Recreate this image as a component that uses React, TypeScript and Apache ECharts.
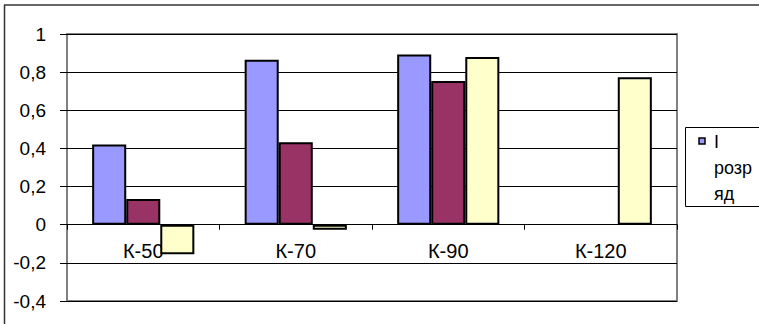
import React, { useEffect, useRef } from "react";
import * as echarts from "echarts";

const categories = ["К-50", "К-70", "К-90", "К-120"];
const seriesNames = ["І розряд", "ІІ розряд", "ІІІ розряд"];
const series1 = [0.42, 0.865, 0.893, null];
const series2 = [0.135, 0.432, 0.753, null];
const series3 = [-0.155, -0.027, 0.88, 0.773];
const colors = ["#9999FF", "#993366", "#FFFFCC"];
const yMin = -0.4;
const yMax = 1;
const yStep = 0.2;

const FONT = "Liberation Sans, Arial, sans-serif";

export default function App() {
  const ref = useRef<HTMLDivElement>(null);
  useEffect(() => {
    if (!ref.current) return;
    const chart = echarts.init(ref.current, undefined, { renderer: "svg" });
    const data = [series1, series2, series3];
    const gridTop = 34;
    const gridBottom = 23;
    const plotH = 324 - gridTop - gridBottom;
    // move the category axis up to the value 0 line
    const zeroOffset = -(plotH * (0 - yMin)) / (yMax - yMin);
    chart.setOption({
      animation: false,
      backgroundColor: "#ffffff",
      textStyle: { fontFamily: FONT },
      grid: {
        left: 67,
        top: gridTop,
        right: 82,
        bottom: gridBottom,
        containLabel: false,
        outerBoundsMode: "none",
        show: true,
        borderColor: "#808080",
        borderWidth: 2,
        backgroundColor: "#ffffff",
      },
      xAxis: {
        type: "category",
        data: categories,
        offset: zeroOffset,
        axisLine: { onZero: false, lineStyle: { color: "#000", width: 1 } },
        axisTick: { show: true, length: 5, lineStyle: { color: "#000" } },
        axisLabel: { color: "#000", fontSize: 20, fontFamily: FONT, margin: 16 },
        splitLine: { show: false },
      },
      yAxis: {
        type: "value",
        min: yMin,
        max: yMax,
        interval: yStep,
        axisLine: { show: false },
        axisTick: { show: true, length: 7, lineStyle: { color: "#000" } },
        axisLabel: {
          color: "#000",
          fontSize: 19,
          fontFamily: FONT,
          margin: 21,
          formatter: (v: number) => String(Math.round(v * 10) / 10).replace(".", ","),
        },
        splitLine: { show: true, lineStyle: { color: "#000", width: 1 } },
      },
      series: data.map((d, i) => ({
        type: "bar",
        name: seriesNames[i],
        data: d,
        barGap: "0%",
        barCategoryGap: "33%",
        itemStyle: { color: colors[i], borderColor: "#000", borderWidth: 2 },
      })),
      graphic: [
        { type: "line", shape: { x1: 4, y1: 5, x2: 759, y2: 5 }, style: { stroke: "#333", lineWidth: 1.5 } },
        { type: "line", shape: { x1: 4.5, y1: 5, x2: 4.5, y2: 324 }, style: { stroke: "#333", lineWidth: 1.5 } },
        {
          type: "rect",
          shape: { x: 685.5, y: 127.5, width: 80, height: 79 },
          style: { fill: "#fff", stroke: "#000", lineWidth: 1 },
        },
        {
          type: "rect",
          shape: { x: 699, y: 138, width: 6, height: 6 },
          style: { fill: colors[0], stroke: "#000", lineWidth: 1.5 },
        },
        { type: "text", x: 714, y: 133, style: { text: "І", fontSize: 18, fontFamily: FONT, fill: "#000" } },
        { type: "text", x: 714, y: 159, style: { text: "розр", fontSize: 18, fontFamily: FONT, fill: "#000" } },
        { type: "text", x: 714, y: 185, style: { text: "яд", fontSize: 18, fontFamily: FONT, fill: "#000" } },
      ],
    });
    return () => chart.dispose();
  }, []);
  return (
    <div
      ref={ref}
      style={{ position: "fixed", left: 0, top: 0, width: 759, height: 324 }}
    />
  );
}
